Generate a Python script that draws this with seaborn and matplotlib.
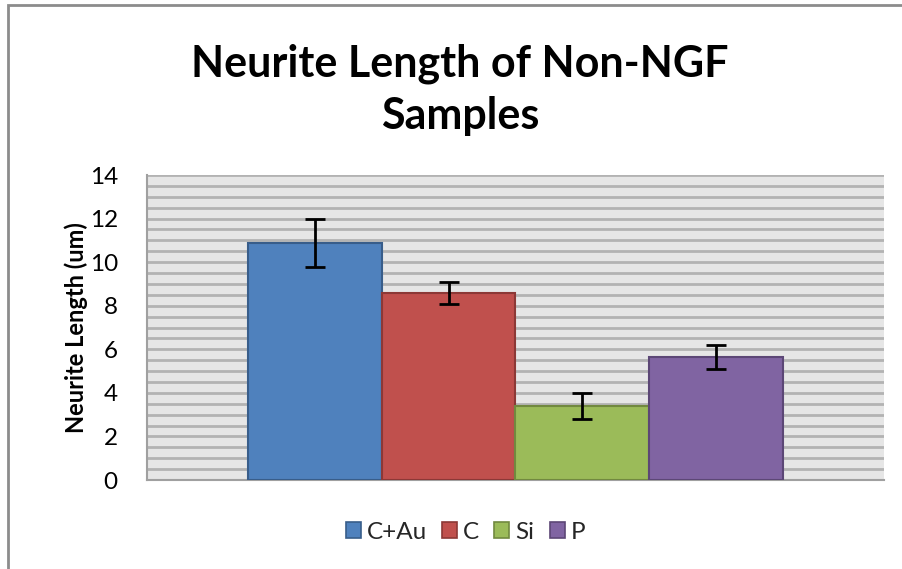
import pandas as pd
import matplotlib.pyplot as plt
import seaborn as sns
from matplotlib.patches import Rectangle

# values
samples = ['C+Au', 'C', 'Si', 'P']
lengths = [10.9, 8.6, 3.4, 5.65]
errors = [1.1, 0.5, 0.6, 0.55]
colors = ['#4f81bd', '#c0504d', '#9bbb59', '#8064a2']
edges = ['#385d8a', '#8c3836', '#71893f', '#5c4776']

df = pd.DataFrame({'group': [''] * 4, 'sample': samples, 'length': lengths})

sns.set_style('white')
plt.rcParams['font.family'] = ['Lato', 'DejaVu Sans']

fig = plt.figure(figsize=(9.02, 5.69), dpi=100)
ax = fig.add_axes([0.163, 0.1564, 0.817, 0.536])

sns.barplot(data=df, x='group', y='length', hue='sample', hue_order=samples,
            palette=colors, width=0.727, errorbar=None, legend=False,
            saturation=1, ax=ax, zorder=3)

for bar, ec, err, val in zip(ax.patches, edges, errors, lengths):
    bar.set_edgecolor(ec)
    bar.set_linewidth(1.5)
    cx = bar.get_x() + bar.get_width() / 2
    ax.errorbar(cx, val, yerr=err, color='black', capsize=7, capthick=2,
                elinewidth=2, zorder=4)

ax.set_xlim(-0.5, 0.5)
ax.set_ylim(0, 14)
ax.set_yticks(range(0, 15, 2))
ax.set_yticks([i * 0.5 for i in range(29)], minor=True)
ax.set_facecolor('#e6e6e6')
ax.grid(axis='y', which='both', color='#b3b3b3', linewidth=2, zorder=0)
ax.set_axisbelow(True)
ax.set_xticks([])
ax.set_xlabel('')
ax.tick_params(axis='y', which='both', length=0, labelsize=17.5, pad=21,
               labelcolor='black')
ax.set_ylabel('Neurite Length (um)', fontsize=17, fontweight='bold', labelpad=1,
              color='black')
for side in ['top', 'right']:
    ax.spines[side].set_visible(False)
for side in ['left', 'bottom']:
    ax.spines[side].set_color('#a0a0a0')
    ax.spines[side].set_linewidth(1.5)

fig.text(0.51, 0.842, 'Neurite Length of Non-NGF\nSamples', fontsize=31,
         fontweight='bold', ha='center', va='center', linespacing=1.38,
         color='black')

handles = [Rectangle((0, 0), 1, 1, facecolor=c, edgecolor=e, linewidth=1.2)
           for c, e in zip(colors, edges)]
fig.legend(handles, samples, loc='center', bbox_to_anchor=(0.516, 0.065),
           ncol=4, frameon=False, fontsize=17.5, handlelength=0.62,
           handleheight=0.62, handletextpad=0.25, columnspacing=0.62)

# chart border (left and top visible in the crop)
fig.add_artist(Rectangle((0.009, -0.1), 1.5, 1.091, transform=fig.transFigure,
                         fill=False, edgecolor='#8c8c8c', linewidth=2))

fig.savefig('out.png', dpi=100)
